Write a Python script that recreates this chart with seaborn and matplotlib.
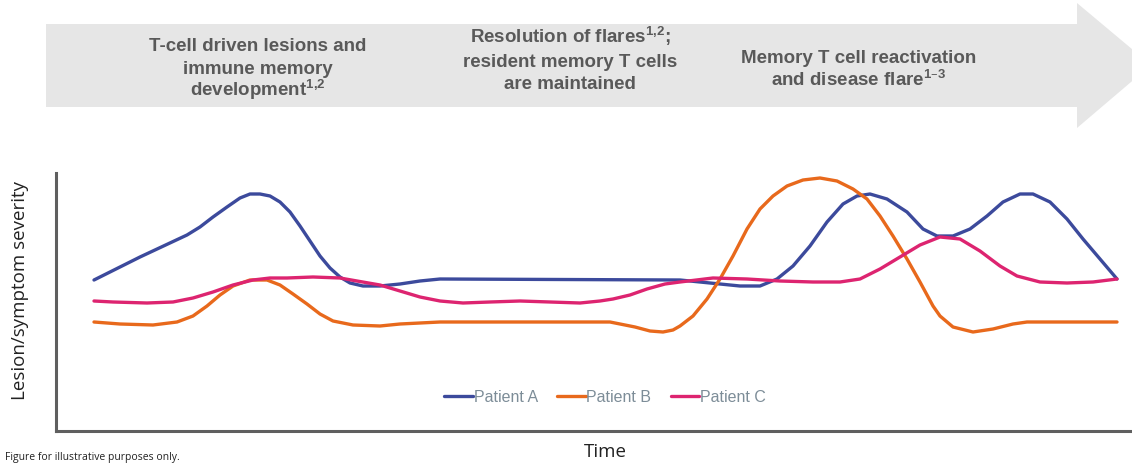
import matplotlib
matplotlib.use("Agg")
import matplotlib.pyplot as plt
from matplotlib.patches import Polygon
import seaborn as sns
import pandas as pd

# values (time and severity in arbitrary units)
time_a = [38, 84, 131, 144, 157, 171, 184, 194, 204, 214, 224, 234, 244, 254, 264, 274,
          284, 294, 307, 324, 344, 364, 384, 624, 644, 664, 684, 704, 721, 737, 754, 771,
          787, 801, 814, 831, 851, 867, 881, 897, 914, 931, 947, 964, 977, 994, 1011, 1027,
          1044, 1061]
sev_a = [151, 174, 196, 204, 214, 224, 233, 237, 237, 235, 229, 219, 205, 190, 175, 163,
         154, 148, 145, 145, 147, 150, 152, 151, 149, 147, 145, 145, 152, 165, 185, 209,
         227, 235, 237, 232, 219, 202, 195, 195, 202, 215, 229, 237, 237, 229, 212, 192,
         172, 152]

time_b = [38, 64, 97, 121, 137, 151, 164, 177, 194, 211, 224, 237, 251, 264, 277, 297,
          324, 344, 364, 384, 554, 564, 579, 594, 607, 617, 624, 637, 651, 664, 677, 691,
          704, 717, 731, 747, 764, 781, 797, 811, 824, 837, 851, 864, 877, 884, 897, 917,
          937, 957, 971, 1061]
sev_b = [109, 107, 106, 109, 115, 125, 136, 145, 151, 151, 146, 137, 127, 117, 110, 106,
         105, 107, 108, 109, 109, 107, 104, 100, 99, 101, 105, 115, 132, 152, 175, 202,
         222, 235, 245, 251, 253, 250, 242, 232, 215, 195, 172, 149, 125, 115, 104, 99,
         102, 107, 109, 109]

time_c = [38, 57, 91, 117, 137, 157, 177, 197, 214, 231, 257, 284, 301, 324, 344, 364,
          384, 407, 434, 464, 494, 524, 544, 557, 574, 591, 609, 624, 657, 691, 724, 757,
          784, 804, 824, 844, 864, 884, 904, 924, 944, 961, 984, 1011, 1037, 1061]
sev_c = [130, 129, 128, 129, 133, 139, 146, 151, 153, 153, 154, 153, 150, 146, 140, 134,
         130, 128, 129, 130, 129, 128, 130, 132, 136, 142, 147, 149, 153, 152, 150, 149,
         149, 152, 162, 174, 186, 194, 192, 180, 165, 155, 149, 148, 149, 152]

patients = ["Patient A", "Patient B", "Patient C"]
colors = ["#3C4A9C", "#E8691C", "#DD2470"]

phase_lines = [
    ["T-cell driven lesions and", "immune memory",
     "development$^{\\mathregular{1{,}2}}$"],
    ["Resolution of flares$^{\\mathregular{1{,}2}}$;", "resident memory T cells",
     "are maintained"],
    ["Memory T cell reactivation", "and disease flare$^{\\mathregular{1\u20133}}$"],
]

df = pd.concat([
    pd.DataFrame({"time": t, "severity": s, "patient": p})
    for t, s, p in zip([time_a, time_b, time_c], [sev_a, sev_b, sev_c], patients)
])

sns.set_style("white")
plt.rcParams["font.family"] = ["Liberation Sans", "DejaVu Sans"]

W, H = 1132, 464
fig = plt.figure(figsize=(W / 100, H / 100), dpi=100)
ax = fig.add_axes([56 / W, (H - 432) / H, (W - 56) / W, (432 - 174) / H])

sns.lineplot(data=df, x="time", y="severity", hue="patient", palette=colors,
             linewidth=2.4, sort=False, ax=ax, legend=False, solid_joinstyle="round")

ax.set_xlim(0, 1076)
ax.set_ylim(0, 258)
ax.set_xticks([])
ax.set_yticks([])
ax.set_xlabel("")
ax.set_ylabel("")
for side in ["top", "right"]:
    ax.spines[side].set_visible(False)
for side in ["left", "bottom"]:
    ax.spines[side].set_color("#5f5f5f")
    ax.spines[side].set_linewidth(2.2)

# legend
handles = [plt.Line2D([], [], color=c, lw=2.4) for c in colors]
leg = fig.legend(handles, patients, loc="center", bbox_to_anchor=(605 / W, 1 - 398 / H),
                 ncol=3, frameon=False, fontsize=11.5, handlelength=1.8,
                 handletextpad=0.05, columnspacing=1.2)
for txt in leg.get_texts():
    txt.set_color("#7d8d98")

# axis labels
fig.text(20 / W, 1 - 290 / H, "Lesion/symptom severity", rotation=90, ha="center",
         va="center", fontsize=13.5, family=["Open Sans", "DejaVu Sans"], color="#222222")
fig.text(605 / W, 1 - 452 / H, "Time", ha="center", va="center", fontsize=13.5,
         family=["Open Sans", "DejaVu Sans"], color="#222222")
fig.text(5 / W, 1 - 458 / H, "Figure for illustrative purposes only.", ha="left",
         va="center", fontsize=7.5, family=["Open Sans", "DejaVu Sans"], color="#222222")

# phase banner arrow
pts = [(46, 25), (1077, 25), (1077, 4), (1151, 66), (1077, 129), (1077, 108), (46, 108)]
arrow = Polygon([(x / W, 1 - y / H) for x, y in pts], closed=True,
                transform=fig.transFigure, facecolor="#e6e6e6", edgecolor="none")
fig.patches.append(arrow)

phase_x = [258, 570, 859]
phase_baselines = [[51, 74, 96], [43, 67, 89], [63, 86]]
for xc, ys, lines in zip(phase_x, phase_baselines, phase_lines):
    for yb, line in zip(ys, lines):
        fig.text(xc / W, 1 - yb / H, line, ha="center", va="baseline", fontsize=13.5,
                 fontweight="bold", color="#595959")

fig.savefig("out.png", dpi=100)
